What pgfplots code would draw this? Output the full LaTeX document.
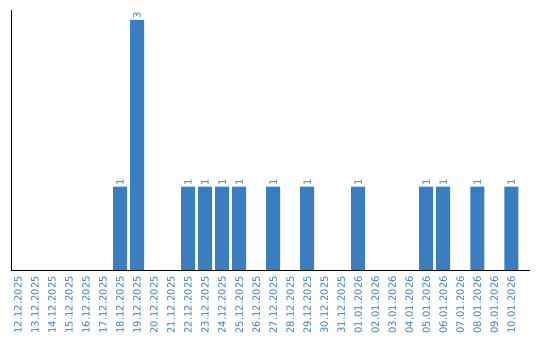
\documentclass[border=0pt]{standalone}
\usepackage{fontspec}
\setmainfont{DejaVu Sans}
\usepackage{pgfplots}
\pgfplotsset{compat=1.18}
\definecolor{barblue}{RGB}{58,125,192}
\begin{document}
\begin{tikzpicture}
\useasboundingbox (0,0) rectangle (540bp,340bp);
\begin{axis}[
  at={(11bp,70bp)}, anchor=south west,
  scale only axis, width=519bp, height=260bp,
  xmin=-0.41, xmax=30.1, ymin=0, ymax=3.12,
  axis x line=bottom, axis y line=left,
  axis line style={-, black, line width=0.9pt},
  ytick=\empty,
  xtick={0,...,29},
  xticklabels={12.12.2025,13.12.2025,14.12.2025,15.12.2025,16.12.2025,17.12.2025,18.12.2025,19.12.2025,20.12.2025,21.12.2025,22.12.2025,23.12.2025,24.12.2025,25.12.2025,26.12.2025,27.12.2025,28.12.2025,29.12.2025,30.12.2025,31.12.2025,01.01.2026,02.01.2026,03.01.2026,04.01.2026,05.01.2026,06.01.2026,07.01.2026,08.01.2026,09.01.2026,10.01.2026},
  x tick label style={rotate=90, anchor=east, font=\fontsize{10bp}{12bp}\selectfont, text=barblue, inner sep=0pt},
  major tick length=0pt,
  xticklabel shift=6bp,
  ybar, bar width=14bp,
  /pgf/number format/assume math mode=true,
  nodes near coords,
  every node near coord/.style={rotate=90, anchor=west, font=\fontsize{10bp}{12bp}\selectfont, text=barblue, inner sep=1pt},
  clip=false,
]
\addplot[fill=barblue, draw=none] coordinates {
(6,1) (7,3) (10,1) (11,1) (12,1) (13,1) (15,1) (17,1) (20,1) (24,1) (25,1) (27,1) (29,1)
};
\end{axis}
\end{tikzpicture}
\end{document}
